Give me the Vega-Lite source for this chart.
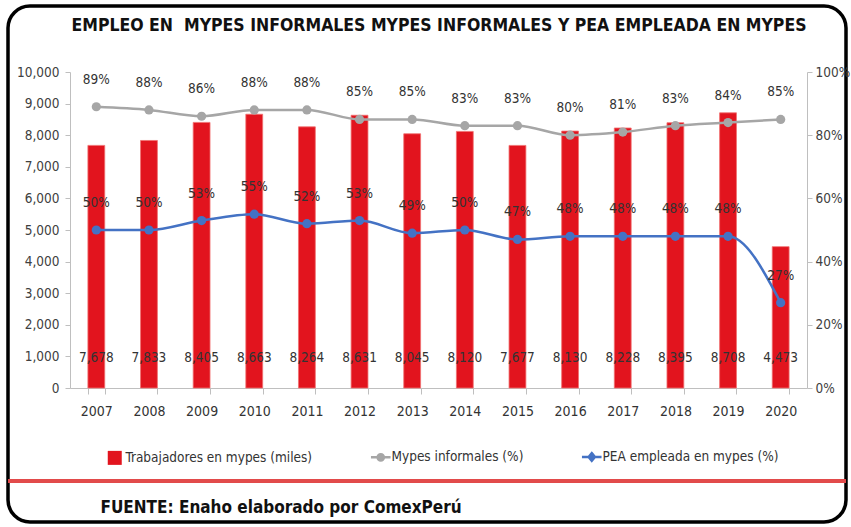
{
  "$schema": "https://vega.github.io/schema/vega-lite/v6.json",
  "width": 838,
  "height": 516,
  "autosize": {"type": "none"},
  "padding": {"left": 8, "top": 6, "right": 5, "bottom": 5},
  "background": "white",
  "config": {
    "view": {"stroke": "#000000", "strokeWidth": 3.5, "cornerRadius": 22},
    "font": "DejaVu Sans Condensed, sans-serif"
  },
  "title": {
    "text": "EMPLEO EN\u00a0 MYPES INFORMALES MYPES INFORMALES Y PEA EMPLEADA EN MYPES",
    "fontSize": 17.5,
    "fontWeight": "bold",
    "color": "#111111",
    "anchor": "middle",
    "frame": "group",
    "offset": 0,
    "baseline": "bottom",
    "dy": 46,
    "dx": 12
  },
  "data": {
    "values": [
      {"year": "2007", "trabajadores": 7678, "informales": 0.89, "pea": 0.50},
      {"year": "2008", "trabajadores": 7833, "informales": 0.88, "pea": 0.50},
      {"year": "2009", "trabajadores": 8405, "informales": 0.86, "pea": 0.53},
      {"year": "2010", "trabajadores": 8663, "informales": 0.88, "pea": 0.55},
      {"year": "2011", "trabajadores": 8264, "informales": 0.88, "pea": 0.52},
      {"year": "2012", "trabajadores": 8631, "informales": 0.85, "pea": 0.53},
      {"year": "2013", "trabajadores": 8045, "informales": 0.85, "pea": 0.49},
      {"year": "2014", "trabajadores": 8120, "informales": 0.83, "pea": 0.50},
      {"year": "2015", "trabajadores": 7677, "informales": 0.83, "pea": 0.47},
      {"year": "2016", "trabajadores": 8130, "informales": 0.80, "pea": 0.48},
      {"year": "2017", "trabajadores": 8228, "informales": 0.81, "pea": 0.48},
      {"year": "2018", "trabajadores": 8395, "informales": 0.83, "pea": 0.48},
      {"year": "2019", "trabajadores": 8708, "informales": 0.84, "pea": 0.48},
      {"year": "2020", "trabajadores": 4473, "informales": 0.85, "pea": 0.27}
    ]
  },
  "encoding": {
    "x": {
      "field": "year",
      "type": "ordinal",
      "scale": {"range": [62, 799], "paddingInner": 0.68, "paddingOuter": 0.34},
      "axis": {
        "title": "FUENTE: Enaho elaborado por ComexPerú",
        "titleX": 92,
        "titleY": 124,
        "titleAlign": "left",
        "titleBaseline": "alphabetic",
        "titleFontSize": 17,
        "titleFontWeight": "bold",
        "titleColor": "#111111",
        "labelAngle": 0,
        "labelFontSize": 14,
        "labelColor": "#333333",
        "domainColor": "#BFBFBF",
        "tickColor": "#BFBFBF",
        "tickBand": "extent",
        "tickSize": 6,
        "labelPadding": 10,
        "offset": -134
      }
    }
  },
  "layer": [
    {
      "layer": [
        {
          "mark": {"type": "bar", "stroke": "#F07070", "strokeWidth": 0.8},
          "encoding": {
            "y": {
              "field": "trabajadores",
              "type": "quantitative",
              "scale": {"domain": [0, 10000], "range": [382, 66], "nice": false, "zero": true},
              "axis": {
                "values": [0, 1000, 2000, 3000, 4000, 5000, 6000, 7000, 8000, 9000, 10000],
                "labelExpr": "format(datum.value, ',')",
                "title": null,
                "offset": -62,
                "labelFontSize": 13.5,
                "labelColor": "#404040",
                "domainColor": "#BFBFBF",
                "tickColor": "#BFBFBF",
                "tickSize": 5,
                "labelPadding": 6,
                "grid": false
              }
            },
            "color": {
              "datum": "trabajadores",
              "type": "nominal",
              "scale": {
                "domain": ["trabajadores", "informales", "pea"],
                "range": ["#E2141E", "#A6A6A6", "#4472C4"]
              },
              "legend": {
                "orient": "none",
                "legendX": 100,
                "legendY": 444,
                "direction": "horizontal",
                "title": null,
                "symbolSize": 196,
                "labelFontSize": 13.5,
                "labelColor": "#333333",
                "labelOffset": 4,
                "columnPadding": 52,
                "labelLimit": 400,
                "labelExpr": "datum.value == 'trabajadores' ? 'Trabajadores en mypes (miles)' : (datum.value == 'informales' ? 'Mypes informales (%)' : 'PEA empleada en mypes (%)')",
                "encode": {
                  "symbols": {
                    "update": {
                      "shape": {"signal": "datum.value == 'trabajadores' ? 'square' : (datum.value == 'informales' ? 'M-1.4,0H1.4M-0.45,0A0.45,0.45 0 1,0 0.45,0A0.45,0.45 0 1,0 -0.45,0Z' : 'M-1.4,0H1.4M0,-0.55L0.45,0L0,0.55L-0.45,0Z')"},
                      "fill": {"signal": "scale('color', datum.value)"},
                      "stroke": {"signal": "scale('color', datum.value)"},
                      "strokeWidth": {"signal": "datum.value == 'trabajadores' ? 0 : 2.5"},
                      "opacity": {"value": 1}
                    }
                  }
                }
              }
            }
          }
        },
        {
          "mark": {"type": "text", "fontSize": 13.5, "color": "#333333", "baseline": "middle"},
          "encoding": {
            "y": {"datum": 950, "type": "quantitative"},
            "text": {"field": "trabajadores", "type": "quantitative", "format": ","}
          }
        },
        {
          "mark": {"type": "rule", "color": "#E24B4B", "strokeWidth": 3},
          "encoding": {
            "y": {"datum": -2940, "type": "quantitative"},
            "x": null
          }
        }
      ]
    },
    {
      "transform": [{"fold": ["informales", "pea"], "as": ["serie", "val"]}],
      "encoding": {
        "y": {
          "field": "val",
          "type": "quantitative",
          "scale": {"domain": [0, 1], "range": [382, 66], "nice": false},
          "axis": {
            "values": [0, 0.2, 0.4, 0.6, 0.8, 1],
            "labelExpr": "format(datum.value, '.0%')",
            "title": null,
            "orient": "right",
            "offset": -39,
            "labelFontSize": 13.5,
            "labelColor": "#404040",
            "domainColor": "#BFBFBF",
            "tickColor": "#BFBFBF",
            "tickSize": 5,
            "labelPadding": 3,
            "grid": false
          }
        }
      },
      "layer": [
        {
          "mark": {"type": "line", "interpolate": "monotone", "strokeWidth": 2.5, "point": {"filled": true, "size": 85}},
          "encoding": {
            "color": {
              "field": "serie",
              "type": "nominal",
              "legend": {
                "orient": "none",
                "legendX": 100,
                "legendY": 444,
                "direction": "horizontal",
                "title": null,
                "symbolSize": 196,
                "labelFontSize": 13.5,
                "labelColor": "#333333",
                "labelOffset": 4,
                "columnPadding": 52,
                "labelLimit": 400,
                "labelExpr": "datum.value == 'trabajadores' ? 'Trabajadores en mypes (miles)' : (datum.value == 'informales' ? 'Mypes informales (%)' : 'PEA empleada en mypes (%)')",
                "encode": {
                  "symbols": {
                    "update": {
                      "shape": {"signal": "datum.value == 'trabajadores' ? 'square' : (datum.value == 'informales' ? 'M-1.4,0H1.4M-0.45,0A0.45,0.45 0 1,0 0.45,0A0.45,0.45 0 1,0 -0.45,0Z' : 'M-1.4,0H1.4M0,-0.55L0.45,0L0,0.55L-0.45,0Z')"},
                      "fill": {"signal": "scale('color', datum.value)"},
                      "stroke": {"signal": "scale('color', datum.value)"},
                      "strokeWidth": {"signal": "datum.value == 'trabajadores' ? 0 : 2.5"},
                      "opacity": {"value": 1}
                    }
                  }
                }
              }
            }
          }
        },
        {
          "mark": {"type": "text", "fontSize": 13.5, "color": "#333333", "baseline": "middle", "dy": -27},
          "encoding": {
            "text": {"field": "val", "type": "quantitative", "format": ".0%"}
          }
        }
      ]
    }
  ],
  "resolve": {"scale": {"y": "independent"}}
}
